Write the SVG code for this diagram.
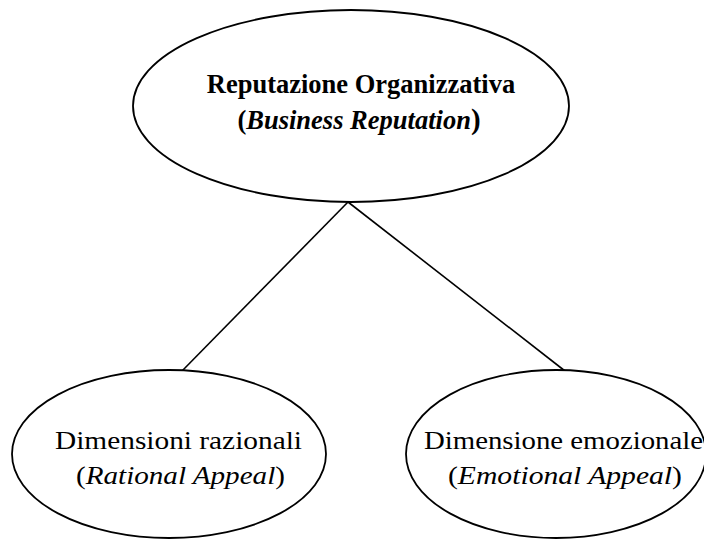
<svg xmlns="http://www.w3.org/2000/svg" width="704" height="539" viewBox="0 0 704 539">
  <style>
    .shape { fill: #ffffff; stroke: #000000; stroke-width: 1.8; }
    .link { stroke: #000000; stroke-width: 1.6; fill: none; }
    .label { font-family: "Liberation Serif", "Times New Roman", serif; fill: #000000; text-anchor: middle; }
    .bold { font-weight: bold; }
  </style>
  <rect width="704" height="539" fill="#ffffff"/>
  <g id="connectors">
    <line class="link" x1="348" y1="202" x2="182" y2="371"/>
    <line class="link" x1="348" y1="202" x2="565" y2="371"/>
  </g>
  <g id="node-reputazione">
    <ellipse class="shape" cx="351" cy="106" rx="218" ry="96"/>
    <text class="label bold" x="361" y="93" font-size="26.5">Reputazione Organizzativa</text>
    <text class="label bold" x="359" y="129" font-size="26.5">(<tspan font-style="italic">Business Reputation</tspan><tspan font-size="29">)</tspan></text>
  </g>
  <g id="node-razionali">
    <ellipse class="shape" cx="169" cy="454" rx="157" ry="84"/>
    <text class="label" x="178.5" y="449" font-size="26" textLength="247" lengthAdjust="spacingAndGlyphs">Dimensioni razionali</text>
    <text class="label" x="180.5" y="484" font-size="26" textLength="209" lengthAdjust="spacingAndGlyphs">(<tspan font-style="italic">Rational Appeal</tspan>)</text>
  </g>
  <g id="node-emozionale">
    <ellipse class="shape" cx="556" cy="454" rx="150" ry="84"/>
    <text class="label" x="563.5" y="449" font-size="26" textLength="279" lengthAdjust="spacingAndGlyphs">Dimensione emozionale</text>
    <text class="label" x="565" y="484" font-size="26" textLength="234" lengthAdjust="spacingAndGlyphs">(<tspan font-style="italic">Emotional Appeal</tspan>)</text>
  </g>
</svg>
